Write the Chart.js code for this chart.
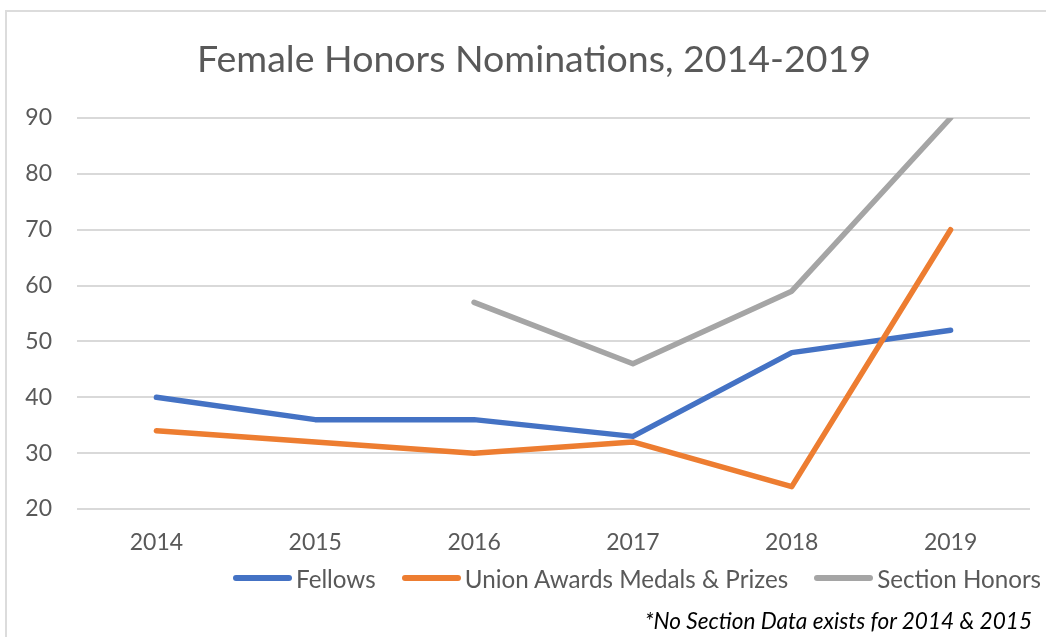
<!DOCTYPE html>
<html>
<head>
<meta charset="utf-8">
<script src="https://cdn.jsdelivr.net/npm/chart.js@4.4.1/dist/chart.umd.min.js"></script>
<style>
  html, body { margin: 0; padding: 0; background: #fff; overflow: hidden; }
  body { width: 1046px; height: 637px; position: relative; font-family: Lato, "Noto Sans", sans-serif; }
  #frame { position: absolute; left: 5px; top: 10px; width: 1100px; height: 700px;
           border-left: 2px solid #dcdcdc; border-top: 2px solid #dcdcdc; }
  #c { position: absolute; left: 0; top: 0; }
  #legend { position: absolute; left: 233px; top: 563px; height: 30px; display: flex; align-items: center;
            font-size: 24.2px; color: #595959; white-space: nowrap; }
  .item { display: flex; align-items: center; margin-right: 26px; }
  .swatch { width: 59px; height: 6px; border-radius: 3px; margin-right: 4px; }
  #note { position: absolute; right: 14px; top: 607px; font-size: 22.6px; font-style: italic; color: #000; white-space: nowrap; }
</style>
</head>
<body>
<div id="frame"></div>
<canvas id="c" width="1046" height="637"></canvas>
<div id="legend"></div>
<div id="note"></div>
<script>
const titleText = "Female Honors Nominations, 2014-2019";
const footnoteText = "*No Section Data exists for 2014 & 2015";
const categories = ["2014", "2015", "2016", "2017", "2018", "2019"];
const seriesNames = ["Fellows", "Union Awards Medals & Prizes", "Section Honors"];
const fellows = [40, 36, 36, 33, 48, 52];
const unionAwards = [34, 32, 30, 32, 24, 70];
const sectionHonors = [null, null, 57, 46, 59, 90];
const yTicks = [20, 30, 40, 50, 60, 70, 80, 90];
const seriesColors = ["#4472C4", "#ED7D31", "#A5A5A5"];

const seriesValues = [fellows, unionAwards, sectionHonors];
const datasets = seriesNames.map((name, i) => ({
  label: name,
  data: seriesValues[i],
  borderColor: seriesColors[i],
  backgroundColor: seriesColors[i],
  borderWidth: 5.5,
  pointRadius: 0,
  pointHoverRadius: 0,
  tension: 0,
  fill: false,
  borderCapStyle: "round",
  borderJoinStyle: "round",
  order: 3 - i
}));

new Chart(document.getElementById("c"), {
  type: "line",
  data: { labels: categories, datasets },
  options: {
    responsive: false,
    animation: false,
    devicePixelRatio: 1,
    layout: { padding: { left: 22, right: 0, top: 0, bottom: 68 } },
    plugins: {
      legend: { display: false },
      tooltip: { enabled: false },
      title: {
        display: true,
        text: titleText,
        color: "#595959",
        font: { family: "Lato", size: 37.5, weight: "normal" },
        padding: { top: 37, bottom: 36 }
      }
    },
    scales: {
      x: {
        offset: true,
        grid: { display: false, drawTicks: false },
        border: { display: false },
        ticks: { color: "#595959", font: { family: "Lato", size: 23 }, padding: 20 },
        afterFit: s => { s.height = 60; }
      },
      y: {
        min: yTicks[0],
        max: yTicks[yTicks.length - 1],
        afterBuildTicks: s => { s.ticks = yTicks.map(v => ({ value: v })); },
        grid: { color: "#d9d9d9", lineWidth: 2, drawTicks: false },
        border: { display: false },
        ticks: { color: "#595959", font: { family: "Lato", size: 23 }, padding: 25 },
        afterFit: s => { s.width = 55; }
      },
      yRightSpace: {
        position: "right",
        display: true,
        min: yTicks[0],
        max: yTicks[yTicks.length - 1],
        grid: { display: false, drawTicks: false },
        border: { display: false },
        ticks: { display: false },
        afterFit: s => { s.width = 16; }
      }
    }
  }
});

const legend = document.getElementById("legend");
seriesNames.forEach((name, i) => {
  const it = document.createElement("div");
  it.className = "item";
  const sw = document.createElement("span");
  sw.className = "swatch";
  sw.style.background = seriesColors[i];
  const tx = document.createElement("span");
  tx.textContent = name;
  it.appendChild(sw); it.appendChild(tx);
  legend.appendChild(it);
});
document.getElementById("note").textContent = footnoteText;
</script>
</body>
</html>
